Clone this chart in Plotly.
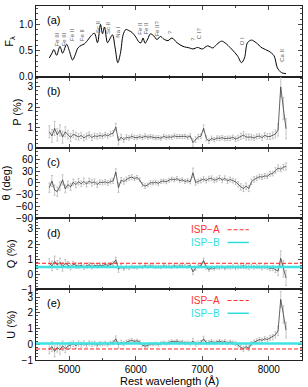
import plotly.graph_objects as go
from plotly.subplots import make_subplots

# ---------------- data ----------------
# flux spectrum (normalised)
spec_wave = [4700, 4740, 4770, 4810, 4860, 4900, 4960, 5000, 5050, 5090, 5130, 5180,
             5230, 5290, 5340, 5380, 5425, 5470, 5500, 5530, 5575, 5610, 5650, 5690,
             5730, 5770, 5810, 5850, 5900, 5950, 6000, 6050, 6080, 6110, 6140, 6180,
             6220, 6270, 6320, 6370, 6420, 6485, 6545, 6620, 6710, 6810, 6860, 6930,
             7000, 7080, 7160, 7220, 7290, 7340, 7440, 7530, 7590, 7635, 7680, 7740,
             7810, 7900, 8000, 8080, 8130, 8190, 8260]
spec_flux = [0.36, 0.45, 0.52, 0.41, 0.58, 0.45, 0.62, 0.50, 0.32, 0.42, 0.55, 0.60,
             0.63, 0.72, 0.80, 0.83, 0.65, 1.00, 0.82, 0.95, 0.65, 0.72, 0.80, 0.55,
             0.27, 0.45, 0.80, 0.90, 0.88, 0.84, 0.76, 0.66, 0.65, 0.74, 0.64, 0.72,
             0.82, 0.78, 0.71, 0.77, 0.72, 0.69, 0.74, 0.65, 0.58, 0.55, 0.53, 0.56,
             0.53, 0.59, 0.55, 0.62, 0.68, 0.65, 0.53, 0.40, 0.27, 0.36, 0.65, 0.70,
             0.65, 0.55, 0.49, 0.40, 0.17, 0.08, 0.06]

line_ids = ["Fe III", "Fe III", "Fe II", "Fe II", "Sc II", "Sc II", "Na I", "Fe II",
            "Fe II", "Fe II?", "?", "?", "C I?", "O I", "Ca II"]
line_wave = [4813, 4918, 5050, 5190, 5425, 5575, 5740, 6050, 6140, 6320, 6515, 6860,
             6950, 7600, 8200]
line_label_y = [0.71, 0.71, 0.79, 0.79, 0.94, 0.94, 0.85, 0.92, 0.92, 0.92, 0.85, 0.72,
                0.83, 0.68, 0.40]

# polarimetry bins
wave = list(range(4700, 8261, 40))
Q = [0.72, 0.55, 0.85, 0.60, 0.78, 0.50, 0.72, 0.62, 0.48, 0.66,
     0.58, 0.52, 0.60, 0.47, 0.55, 0.62, 0.50, 0.58, 0.54, 0.60,
     0.56, 0.64, 0.58, 0.66, 0.70, 0.95, 0.32, 0.50, 0.38, 0.48,
     0.42, 0.50, 0.46, 0.44, 0.52, 0.48, 0.56, 0.50, 0.54, 0.52,
     0.48, 0.50, 0.46, 0.55, 0.50, 0.52, 0.48, 0.56, 0.50, 0.54,
     0.52, 0.55, 0.50, 0.58, 0.15, 0.40, 0.52, 0.55, 0.90, 0.45,
     0.30, 0.42, 0.38, 0.45, 0.42, 0.48, 0.40, 0.46, 0.44, 0.50,
     0.42, 0.48, 0.52, 0.55, 0.50, 0.46, 0.52, 0.45, 0.50, 0.48,
     0.42, 0.50, 0.45, 0.38, 0.40, 0.30, 0.20, 1.05, 0.35, -0.25]
U = [-0.30, -0.15, -0.45, -0.20, -0.35, -0.10, -0.28, -0.12, -0.05, 0.02,
     -0.08, 0.05, -0.02, 0.06, -0.04, 0.08, 0.00, 0.05, -0.06, 0.04,
     0.02, 0.06, 0.00, 0.08, 0.10, 0.35, -0.05, 0.12, 0.05, 0.15,
     0.20, 0.25, 0.18, 0.22, 0.15, -0.05, -0.12, -0.08, 0.02, 0.00,
     0.04, -0.02, 0.06, 0.10, 0.05, 0.12, 0.18, 0.15, 0.20, 0.12,
     0.15, 0.08, 0.10, 0.05, 0.20, 0.02, 0.08, 0.12, 0.35, 0.10,
     0.12, 0.18, 0.10, 0.15, 0.20, 0.12, 0.18, 0.08, 0.15, 0.10,
     0.05, -0.05, -0.20, -0.28, -0.15, -0.25, 0.05, 0.15, 0.22, 0.30,
     0.25, 0.35, 0.30, 0.40, 0.45, 0.60, 0.85, 2.85, 1.90, 0.90]
P = [0.78, 0.58, 0.95, 0.63, 0.85, 0.52, 0.78, 0.64, 0.50, 0.66,
     0.58, 0.53, 0.60, 0.48, 0.56, 0.63, 0.50, 0.58, 0.55, 0.60,
     0.56, 0.64, 0.58, 0.67, 0.71, 1.02, 0.33, 0.52, 0.39, 0.51,
     0.47, 0.56, 0.50, 0.49, 0.54, 0.49, 0.57, 0.51, 0.54, 0.52,
     0.48, 0.50, 0.46, 0.56, 0.50, 0.53, 0.51, 0.58, 0.54, 0.55,
     0.54, 0.56, 0.51, 0.58, 0.25, 0.40, 0.53, 0.56, 0.96, 0.46,
     0.32, 0.46, 0.39, 0.47, 0.46, 0.49, 0.44, 0.46, 0.46, 0.51,
     0.42, 0.48, 0.56, 0.62, 0.52, 0.52, 0.52, 0.47, 0.55, 0.57,
     0.49, 0.61, 0.54, 0.55, 0.60, 0.67, 0.87, 3.00, 1.93, 0.93]
theta = [-12, 5, -18, -22, -8, 8, -15, -4, -10, 2,
         -4, 3, -2, 4, -3, 5, 0, 3, -4, 2,
         1, 3, 0, 4, 5, 28, -12, 7, 4, 9,
         13, 15, 11, 14, 8, -4, -8, -5, 1, 0,
         2, -1, 4, 5, 3, 7, 10, 8, 11, 6,
         8, 4, 6, 3, 26, 1, 4, 6, 10, 6,
         11, 12, 7, 9, 13, 7, 12, 5, 9, 6,
         3, -3, -10, -14, -8, -14, 3, 9, 12, 16,
         15, 18, 17, 23, 24, 32, 38, 35, 40, 42]
err_pct = [0.30, 0.32, 0.35, 0.30, 0.28, 0.30, 0.25, 0.22, 0.20, 0.18,
           0.18, 0.16, 0.16, 0.15, 0.15, 0.14, 0.15, 0.14, 0.13, 0.13,
           0.12, 0.12, 0.12, 0.12, 0.13, 0.18, 0.20, 0.14, 0.12, 0.12,
           0.11, 0.11, 0.10, 0.10, 0.10, 0.10, 0.11, 0.10, 0.10, 0.10,
           0.10, 0.10, 0.10, 0.10, 0.10, 0.10, 0.10, 0.10, 0.10, 0.10,
           0.10, 0.10, 0.10, 0.11, 0.18, 0.14, 0.12, 0.12, 0.16, 0.12,
           0.11, 0.11, 0.11, 0.11, 0.11, 0.11, 0.11, 0.11, 0.11, 0.11,
           0.12, 0.13, 0.15, 0.16, 0.15, 0.15, 0.13, 0.12, 0.12, 0.12,
           0.13, 0.13, 0.14, 0.15, 0.17, 0.20, 0.30, 0.50, 0.55, 0.50]
err_theta = [12, 14, 13, 12, 11, 13, 10, 9, 9, 8,
             8, 8, 7, 8, 7, 7, 8, 7, 7, 6,
             6, 6, 6, 6, 6, 8, 12, 7, 7, 6,
             6, 6, 5, 5, 5, 5, 6, 5, 5, 5,
             5, 5, 5, 5, 5, 5, 5, 5, 5, 5,
             5, 5, 5, 5, 12, 7, 6, 6, 6, 6,
             6, 6, 6, 6, 6, 6, 6, 6, 6, 6,
             7, 7, 8, 8, 8, 8, 7, 7, 6, 6,
             6, 6, 6, 6, 6, 7, 8, 6, 7, 9]

ISP_A = {"Q": 0.72, "U": -0.30}
ISP_B = {"Q": 0.48, "U": 0.05}

panel_letters = ["(a)", "(b)", "(c)", "(d)", "(e)"]

# ---------------- figure ----------------
FONT = "Liberation Sans, Arial, Helvetica, sans-serif"
fig = make_subplots(rows=5, cols=1, shared_xaxes=True, vertical_spacing=0)

fig.add_trace(go.Scatter(x=spec_wave, y=spec_flux, mode="lines",
                         line=dict(color="black", width=1, shape="spline", smoothing=0.9)),
              row=1, col=1)

err_style = dict(type="data", color="#b8b8b8", thickness=0.8, width=1)
for r, (yv, ev) in enumerate([(P, err_pct), (theta, err_theta), (Q, err_pct), (U, err_pct)], start=2):
    fig.add_trace(go.Scatter(x=wave, y=yv, mode="lines",
                             error_y=dict(array=ev, **err_style),
                             line=dict(color="#3c3c3c", width=0.8)),
                  row=r, col=1)

for r, comp in [(4, "Q"), (5, "U")]:
    fig.add_hline(y=ISP_B[comp], line=dict(color="#3fe3e3", width=2.5), row=r, col=1)
    fig.add_hline(y=ISP_A[comp], line=dict(color="#ff2020", width=1, dash="4px,2px"), row=r, col=1)

axis_common = dict(showline=True, linecolor="#222", linewidth=1, mirror="allticks",
                   ticks="inside", ticklen=4, tickwidth=0.8, tickcolor="#222",
                   showgrid=False, zeroline=False,
                   tickfont=dict(family=FONT, size=10, color="black"))

for r in range(1, 6):
    fig.update_xaxes(range=[4500, 8500], dtick=1000, tick0=0,
                     minor=dict(ticks="inside", ticklen=2, dtick=500, tickcolor="#222"),
                     row=r, col=1, **axis_common)

yspecs = [
    dict(range=[0, 1.35], dtick=0.5, tickformat=".1f", minor=0.1, title="F<sub>λ</sub>"),
    dict(range=[0, 3.499], dtick=1, tickformat="d", minor=0.2, title="P (%)"),
    dict(range=[-90, 89.9], dtick=30, tickformat="d", minor=10, title="θ (deg)"),
    dict(range=[-1, 3.7], dtick=1, tickformat="d", minor=0.2, title="Q (%)"),
    dict(range=[-1, 3.5], dtick=1, tickformat="d", minor=0.2, title="U (%)"),
]
for r, s in enumerate(yspecs, start=1):
    fig.update_yaxes(range=s["range"], dtick=s["dtick"], tick0=0, tickformat=s["tickformat"],
                     minor=dict(ticks="inside", ticklen=2, dtick=s["minor"], tickcolor="#222"),
                     title=dict(text=s["title"], font=dict(family=FONT, size=11, color="black"),
                                standoff=3),
                     row=r, col=1, **axis_common)

# x-axis title as an annotation below the bottom panel
fig.add_annotation(text="Rest wavelength (Å)", xref="x5 domain", yref="paper", x=0.5, y=0,
                   yshift=-21, xanchor="center", yanchor="middle", showarrow=False,
                   font=dict(family=FONT, size=11, color="black"))

# panel letters
for r, lab in enumerate(panel_letters, start=1):
    sfx = "" if r == 1 else str(r)
    fig.add_annotation(text=lab, xref=f"x{sfx} domain", yref=f"y{sfx} domain",
                       x=0.035, y=0.80, xanchor="left", yanchor="middle", showarrow=False,
                       font=dict(family=FONT, size=11, color="black"))

# line identifications
for name, lw, ly in zip(line_ids, line_wave, line_label_y):
    fig.add_annotation(text=name, x=lw, y=ly, xref="x", yref="y", textangle=-90,
                       showarrow=False, xanchor="center", yanchor="middle",
                       font=dict(family=FONT, size=6, color="#606060"))

# keys for ISP lines in panels d and e
for r in (4, 5):
    for label, col, dash, w, yy in [("ISP−A", "#ff3030", "4px,2px", 1, 0.84),
                                     ("ISP−B", "#30dede", "solid", 1.5, 0.66)]:
        fig.add_annotation(text=label, xref=f"x{r} domain", yref=f"y{r} domain",
                           x=0.70, y=yy, xanchor="right", yanchor="middle", showarrow=False,
                           font=dict(family=FONT, size=10, color=col))
        fig.add_shape(type="line", xref=f"x{r} domain", yref=f"y{r} domain",
                      x0=0.72, x1=0.80, y0=yy, y1=yy, line=dict(color=col, width=w, dash=dash))

fig.update_layout(width=308, height=387, margin=dict(l=35, r=5, t=5, b=27),
                  paper_bgcolor="white", plot_bgcolor="white", showlegend=False,
                  font=dict(family=FONT, size=10, color="black"))

fig.write_html("out.html", config={"displayModeBar": False, "staticPlot": True},
               post_script="document.body.style.margin='0';document.body.style.overflow='hidden';")
